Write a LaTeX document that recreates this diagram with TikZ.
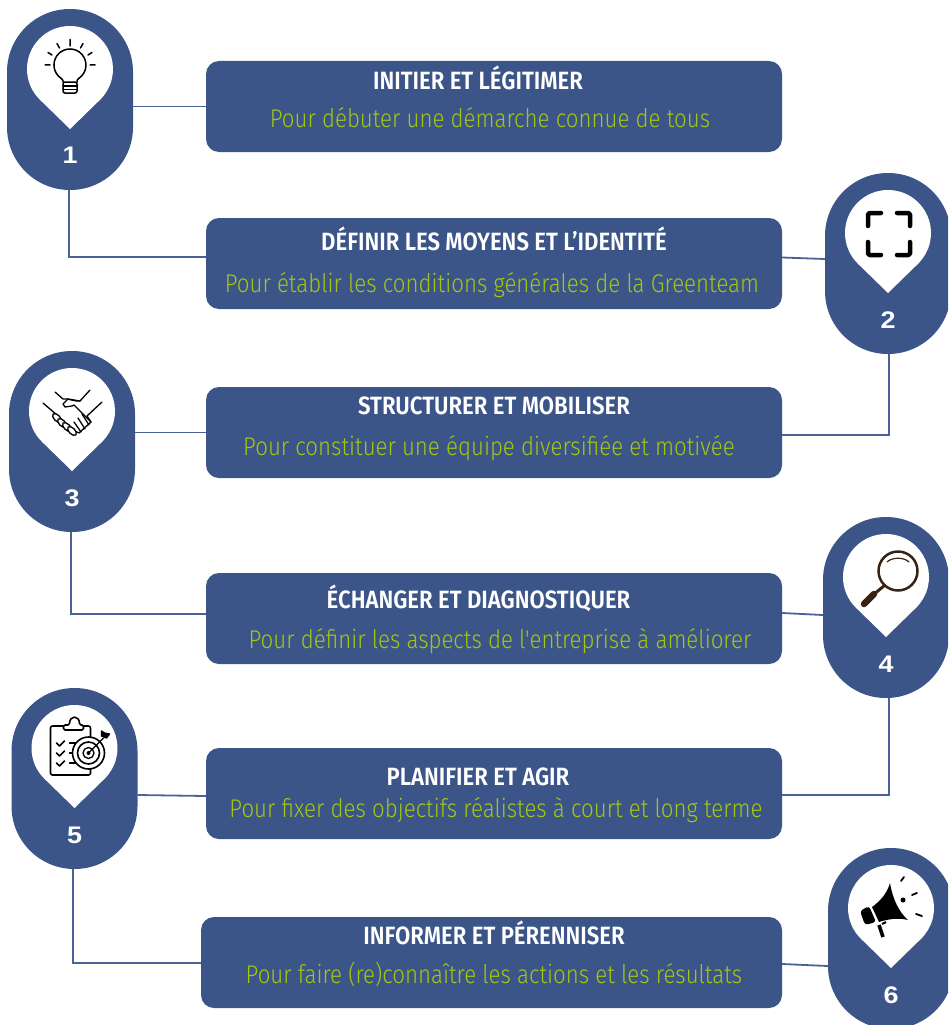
\documentclass[tikz,border=0pt]{standalone}
\usepackage{fontspec}
\setmainfont{Liberation Sans}
\newfontfamily\titlefont[FakeStretch=0.885]{Fira Sans SemiBold}
\newfontfamily\subfont[FakeStretch=0.87]{Fira Sans Light}
\newfontfamily\numfont[FakeStretch=1.12]{Liberation Sans Bold}
\definecolor{pinblue}{HTML}{3C5589}
\definecolor{linkblue}{HTML}{4A6397}
\definecolor{subgreen}{HTML}{A4C613}
\definecolor{lensbrown}{HTML}{3A2213}
\usetikzlibrary{calc}
\tikzset{
  pinbody/.style={fill=pinblue,rounded corners=62.9pt,minimum width=126pt,minimum height=181pt,inner sep=0pt},
  stepbox/.style={fill=pinblue,rounded corners=13pt,minimum height=91pt,inner sep=0pt},
  titlenode/.style={text=white,font=\titlefont\fontsize{25}{30}\selectfont,inner sep=0pt,text height=17pt,text depth=0pt},
  subnode/.style={text=subgreen,font=\subfont\fontsize{25.6}{30}\selectfont,inner sep=0pt,text height=19pt,text depth=5pt},
  numnode/.style={text=white,font=\numfont\fontsize{24}{28}\selectfont,inner sep=0pt},
  linkline/.style={draw=linkblue,line width=1.8pt},
  dropfill/.style={fill=white,draw=none},
  iconline/.style={draw=black,line width=1.3pt,line cap=round,line join=round}
}
\newcommand\pindrop[2]{\fill[dropfill] (#1,#2+60) -- ($(#1,#2)+(134.2:43)$) arc[start angle=134.2,end angle=405.8,radius=43] -- cycle;}
\begin{document}
\begin{tikzpicture}[x=1pt,y=1pt,yscale=-1]
\useasboundingbox (0,0) rectangle (948,1025);
\clip (0,0) rectangle (948,1025);
\fill[white] (0,0) rectangle (948,1025);
% boxes
\node[stepbox,minimum width=576pt] (box1) at (494,106.5) {};
\node[stepbox,minimum width=576pt] (box2) at (494,263.5) {};
\node[stepbox,minimum width=576pt] (box3) at (494,432.5) {};
\node[stepbox,minimum width=576pt] (box4) at (494,618.5) {};
\node[stepbox,minimum width=576pt] (box5) at (494,793.5) {};
\node[stepbox,minimum width=581pt] (box6) at (491.5,962.5) {};
% pins
\node[pinbody] (pin1) at (70,99.5) {};
\node[pinbody] (pin2) at (888,263.5) {};
\node[pinbody] (pin3) at (72,441.5) {};
\node[pinbody] (pin4) at (886,607.5) {};
\node[pinbody] (pin5) at (74.5,778.5) {};
\node[pinbody] (pin6) at (891,938.5) {};
% connectors
\draw[linkline] (pin1.east |- box1.west) -- (box1.west);
\draw[linkline] ([xshift=-1pt]pin1.south) |- ([yshift=-6.5pt]box2.west);
\draw[linkline] ([yshift=-6pt]box2.east) -- ([yshift=-4.5pt]pin2.west);
\draw[linkline] ([xshift=1pt]pin2.south) |- ([yshift=2.5pt]box3.east);
\draw[linkline] (pin3.east |- box3.west) -- (box3.west);
\draw[linkline] ([xshift=-1pt]pin3.south) |- ([yshift=-4.5pt]box4.west);
\draw[linkline] ([yshift=-5.5pt]box4.east) -- ([yshift=-3.5pt]pin4.west |- box4.east);
\draw[linkline] ([xshift=3pt]pin4.south) |- ([yshift=1.5pt]box5.east);
\draw[linkline] ([yshift=1.5pt]pin5.east |- box5.west) -- ([yshift=2.5pt]box5.west);
\draw[linkline] ([xshift=-1.5pt]pin5.south) |- ([yshift=.5pt]box6.west);
\draw[linkline] ([yshift=1.5pt]box6.east) -- ([yshift=3.5pt]pin6.west |- box6.east);
% white drops
\pindrop{70}{69}
\pindrop{888}{233}
\pindrop{72}{411}
\pindrop{886}{577}
\pindrop{74.5}{748}
\pindrop{891}{908}
% numbers
\node[numnode] (num1) at (70,155) {1};
\node[numnode] (num2) at (888,320) {2};
\node[numnode] (num3) at (72,498) {3};
\node[numnode] (num4) at (886,664) {4};
\node[numnode] (num5) at (74.5,835) {5};
\node[numnode] (num6) at (891,995) {6};
% texts
\node[titlenode] (title1) at (478,81) {INITIER ET LÉGITIMER};
\node[subnode] (sub1) at (490,120) {Pour débuter une démarche connue de tous};
\node[titlenode] (title2) at (494,242) {DÉFINIR LES MOYENS ET L’IDENTITÉ};
\node[subnode] (sub2) at (492,285) {Pour établir les conditions générales de la Greenteam};
\node[titlenode] (title3) at (494,406) {STRUCTURER ET MOBILISER};
\node[subnode] (sub3) at (489,448) {Pour constituer une équipe diversifiée et motivée};
\node[titlenode] (title4) at (478.5,600) {ÉCHANGER ET DIAGNOSTIQUER};
\node[subnode] (sub4) at (500,641) {Pour définir les aspects de l'entreprise à améliorer};
\node[titlenode] (title5) at (478,777) {PLANIFIER ET AGIR};
\node[subnode] (sub5) at (496,810) {Pour fixer des objectifs réalistes à court et long terme};
\node[titlenode] (title6) at (494,936) {INFORMER ET PÉRENNISER};
\node[subnode] (sub6) at (494,976) {Pour faire (re)connaître les actions et les résultats};
% bulb
\begin{scope}[shift={(70,69)}]
\draw[iconline,line width=1.5pt] (-7,13) -- (-7,12) .. controls (-7,11) and (-8,10) .. (-9.2,9.1) arc[start angle=125,end angle=415,radius=16] .. controls (8,10) and (7,11) .. (7,12) -- (7,13);
\draw[iconline,line width=1.5pt,rounded corners=2pt] (-7,13) rectangle (7,24);
\draw[iconline] (-7,17) -- (7,17) (-7,20.5) -- (7,20.5);
\draw[iconline,line width=1.5pt] (-20,-4) -- (-25,-4) (-18,-14) -- (-22,-16.5) (-10.5,-21) -- (-13,-25.5) (0,-23) -- (0,-29.5) (10.5,-21) -- (13,-25.5) (18,-14) -- (22,-16.5) (20,-4) -- (25,-4);
\end{scope}
% brackets
\begin{scope}[shift={(889,234)}]
\draw[iconline,line width=4.5pt,rounded corners=1.5pt] (-21,-8) -- (-21,-21) -- (-8,-21);
\draw[iconline,line width=4.5pt,rounded corners=1.5pt] (8,-21) -- (21,-21) -- (21,-8);
\draw[iconline,line width=4.5pt,rounded corners=1.5pt] (-21,8) -- (-21,21) -- (-8,21);
\draw[iconline,line width=4.5pt,rounded corners=1.5pt] (8,21) -- (21,21) -- (21,8);
\end{scope}
% handshake
\begin{scope}[shift={(72,411)}]
\draw[iconline] (-29,-8) -- (-15,4);
\draw[iconline] (30,-9) -- (15,5);
\draw[iconline] (-17,-19) -- (-9,-12) .. controls (-3,-13) and (3,-9) .. (8,-10) -- (18,-21);
\draw[iconline] (8,-10) -- (-4,-12) -- (-9,-7) -- (-7,-4) -- (0,-5) -- (2,-6) -- (19,11) -- (7,22) -- (3,20);
\draw[iconline] (15,5) -- (19,11);
\draw[iconline] (10,3) -- (17,14) (6,7) -- (13,18) (2,11) -- (9,21);
\draw[iconline,fill=white,rotate around={45:(-15,7)}] (-15,7) ellipse (5.5 and 3);
\draw[iconline,fill=white,rotate around={45:(-10,12)}] (-10,12) ellipse (5.5 and 3);
\draw[iconline,fill=white,rotate around={45:(-5,16)}] (-5,16) ellipse (5.5 and 3);
\draw[iconline,fill=white,rotate around={45:(0,20)}] (0,20) ellipse (5.5 and 3);
\end{scope}
% magnifier
\begin{scope}[shift={(886,577)}]
\draw[draw=lensbrown,line width=2.5pt] (12,-6) circle (19.5);
\draw[draw=lensbrown,line width=1.2pt,line cap=round] (1,-15) .. controls (6,-20) and (18,-20) .. (23,-15);
\draw[draw=lensbrown,line width=3pt] (-1,8) -- (-13,18);
\draw[draw=lensbrown,line width=6.5pt,line cap=round] (-12,17) -- (-22,27);
\end{scope}
% clipboard and target
\begin{scope}[shift={(74.5,748)}]
\draw[iconline,line width=1.6pt,rounded corners=2pt] (16,-9) -- (16,-22) -- (9,-22) (-9,-22) -- (-24,-22) -- (-24,27) -- (16,27) -- (16,20);
\draw[iconline,line width=1.6pt,rounded corners=1.5pt,fill=white] (-11,-18) -- (-11,-23) -- (-5,-23) .. controls (-5,-33) and (5,-33) .. (5,-23) -- (9,-23) -- (9,-18) -- cycle;
\draw[iconline,line width=1.6pt] (-18,-5) -- (-15,-2) -- (-10,-7) (-18,5) -- (-15,8) -- (-10,3) (-18,15) -- (-15,18) -- (-10,13);
\draw[iconline] (-5,-5) -- (2,-5) (-5,5) -- (-1,5) (-5,15) -- (3,15);
\draw[iconline,line width=1.6pt,fill=white] (14,5) circle (16);
\draw[iconline,line width=1.6pt] (14,5) circle (11);
\draw[iconline] (14,5) circle (5.5);
\fill (14,5) circle (2);
\draw[iconline] (14,5) -- (29,-10);
\draw[iconline,fill=black] (27,-12) -- (27,-17) -- (30,-15) -- (35,-14) -- (32,-10) -- cycle;
\end{scope}
% megaphone
\begin{scope}[shift={(891,908)}]
\fill (-1,-25) .. controls (2,-8) and (8,4) .. (17,12) .. controls (6,9) and (-6,12) .. (-12,14) -- (-19,-1) .. controls (-12,-6) and (-4,-14) .. (-1,-25) -- cycle;
\fill[rounded corners=3pt] (-22,-2) -- (-31,3) -- (-26,17) -- (-15,14) -- cycle;
\draw[black,line width=3.5pt] (-12,17) -- (-8,29);
\draw[black,line width=2pt] (-9,16) -- (-5,14);
\fill (12,-8) circle (2.5);
\draw[iconline,line width=1.8pt] (10,-27) -- (13,-31) (21,-13) -- (26,-15) (25,6) -- (31,8);
\end{scope}
\end{tikzpicture}
\end{document}
